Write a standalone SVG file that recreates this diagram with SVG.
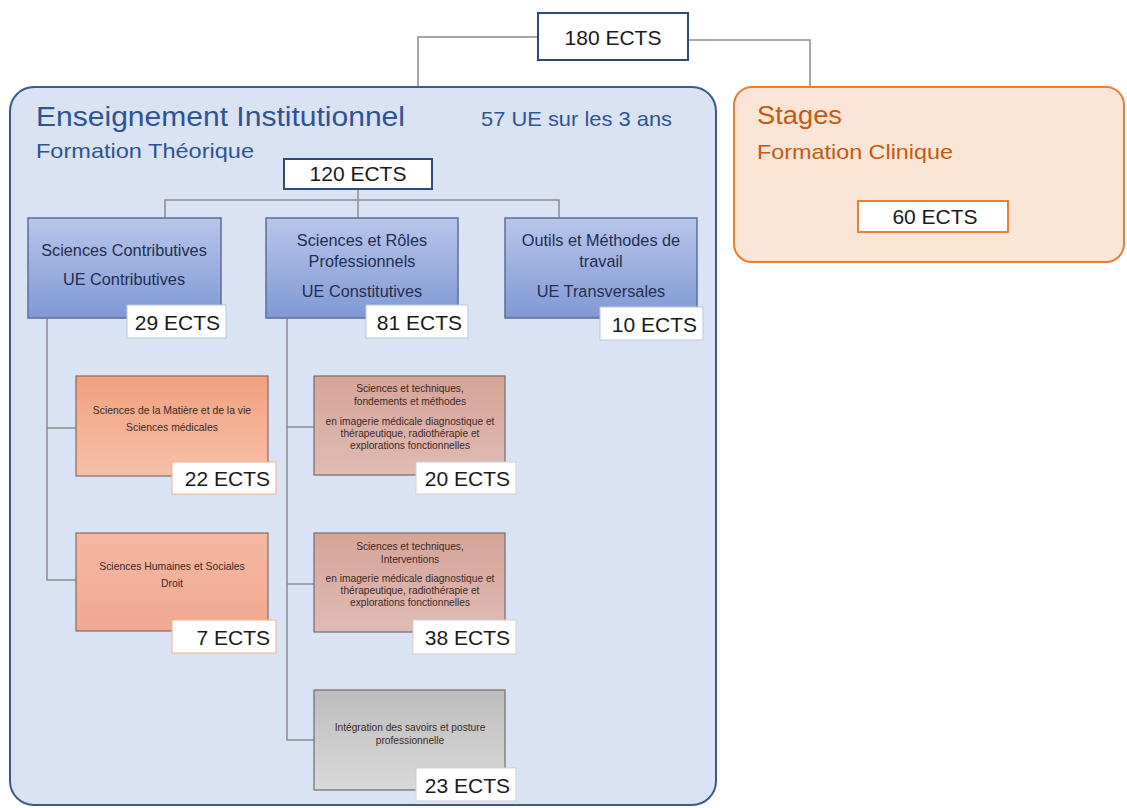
<svg xmlns="http://www.w3.org/2000/svg" width="1127" height="808" viewBox="0 0 1127 808">
<defs>
<linearGradient id="gBlue" x1="0" y1="0" x2="0" y2="1"><stop offset="0" stop-color="#b7c6ea"/><stop offset="1" stop-color="#8099d5"/></linearGradient>
<linearGradient id="gSalmon" x1="0" y1="0" x2="0" y2="1"><stop offset="0" stop-color="#f2a07e"/><stop offset="1" stop-color="#f6c0aa"/></linearGradient>
<linearGradient id="gSalmon2" x1="0" y1="0" x2="0" y2="1"><stop offset="0" stop-color="#f4b8a2"/><stop offset="1" stop-color="#f0a891"/></linearGradient>
<linearGradient id="gRose" x1="0" y1="0" x2="0" y2="1"><stop offset="0" stop-color="#d6a497"/><stop offset="1" stop-color="#dfbcb4"/></linearGradient>
<linearGradient id="gGrey" x1="0" y1="0" x2="0" y2="1"><stop offset="0" stop-color="#bdbdbd"/><stop offset="1" stop-color="#d9d9d9"/></linearGradient>
</defs>
<style>
text{font-family:"Liberation Sans",Arial,sans-serif}
.conn{fill:none;stroke:#8c8c8c;stroke-width:1.5}
.ects{fill:#ffffff}
.big{font-size:21px;fill:#1a1a1a;text-anchor:middle}
.num{font-size:21px;fill:#1a1a1a;text-anchor:end}
.lvl{font-size:16.3px;fill:#1f2f4f;text-anchor:middle}
.sm{font-size:10.4px;fill:#3a2a26;text-anchor:middle}
.xs{font-size:10.2px;fill:#3a2a26;text-anchor:middle}
.blue{fill:#2f5496}
.orange{fill:#c55a11}
</style>

<g id="connectors">
<path class="conn" d="M538,37 H418 V87"/>
<path class="conn" d="M688,40 H810 V87"/>
</g>

<g id="enseignement">
<rect x="10" y="87" width="706" height="718" rx="24" fill="#dae3f3" stroke="#3c5a8e" stroke-width="2"/>
<text x="36" y="126" class="blue" font-size="27" textLength="369" lengthAdjust="spacingAndGlyphs">Enseignement Institutionnel</text>
<text x="481" y="126" class="blue" font-size="21" textLength="191" lengthAdjust="spacingAndGlyphs">57 UE sur les 3 ans</text>
<text x="36" y="158" class="blue" font-size="21" textLength="218" lengthAdjust="spacingAndGlyphs">Formation Théorique</text>
</g>

<g id="stages">
<rect x="734" y="87" width="390" height="175" rx="18" fill="#fbe5d6" stroke="#ed7d31" stroke-width="2"/>
<text x="757" y="124" class="orange" font-size="26" textLength="85" lengthAdjust="spacingAndGlyphs">Stages</text>
<text x="757" y="159" class="orange" font-size="21" textLength="196" lengthAdjust="spacingAndGlyphs">Formation Clinique</text>
</g>

<g id="connectors-inner">
<path class="conn" d="M358,189 V200"/>
<path class="conn" d="M165,218 V200 H559 V218"/>
<path class="conn" d="M358,200 V218"/>
<path class="conn" d="M47,318 V580 H76"/>
<path class="conn" d="M47,428 H76"/>
<path class="conn" d="M287,318 V740 H314"/>
<path class="conn" d="M287,427 H314"/>
<path class="conn" d="M287,584 H314"/>
</g>

<g id="n180">
<rect x="538" y="13" width="150" height="47" fill="#ffffff" stroke="#2f4a7a" stroke-width="2"/>
<text x="613" y="45" class="big" font-size="25">180 ECTS</text>
</g>

<g id="n120">
<rect x="284" y="159" width="148" height="30" fill="#ffffff" stroke="#2f4a7a" stroke-width="2"/>
<text x="358" y="181" class="big" font-size="20">120 ECTS</text>
</g>

<g id="n60">
<rect x="858" y="201" width="150" height="31" fill="#ffffff" stroke="#ed7d31" stroke-width="2"/>
<text x="935" y="224" class="big" font-size="20">60 ECTS</text>
</g>

<g id="contributives">
<rect x="28" y="218" width="193" height="100" fill="url(#gBlue)" stroke="#5b6f9e" stroke-width="1.5"/>
<text x="124" y="256" class="lvl">Sciences Contributives</text>
<text x="124" y="285" class="lvl">UE Contributives</text>
<rect x="127" y="305" width="99" height="33" class="ects" stroke="#b4c7e7"/>
<text x="220" y="330" class="num">29 ECTS</text>
</g>

<g id="constitutives">
<rect x="266" y="218" width="192" height="100" fill="url(#gBlue)" stroke="#5b6f9e" stroke-width="1.5"/>
<text x="362" y="246" class="lvl">Sciences et Rôles</text>
<text x="362" y="267" class="lvl">Professionnels</text>
<text x="362" y="297" class="lvl">UE Constitutives</text>
<rect x="366" y="305" width="102" height="33" class="ects" stroke="#b4c7e7"/>
<text x="462" y="330" class="num">81 ECTS</text>
</g>

<g id="transversales">
<rect x="505" y="218" width="192" height="100" fill="url(#gBlue)" stroke="#5b6f9e" stroke-width="1.5"/>
<text x="601" y="246" class="lvl">Outils et Méthodes de</text>
<text x="601" y="267" class="lvl">travail</text>
<text x="601" y="297" class="lvl">UE Transversales</text>
<rect x="600" y="307" width="103" height="33" class="ects" stroke="#b4c7e7"/>
<text x="697" y="332" class="num">10 ECTS</text>
</g>

<g id="matiere">
<rect x="76" y="376" width="192" height="100" fill="url(#gSalmon)" stroke="#8a6a60" stroke-width="1.2"/>
<text x="172" y="414" class="sm">Sciences de la Matière et de la vie</text>
<text x="172" y="431" class="sm">Sciences médicales</text>
<rect x="172" y="462" width="104" height="32" class="ects" stroke="#f4b183"/>
<text x="270" y="486" class="num">22 ECTS</text>
</g>

<g id="humaines">
<rect x="76" y="533" width="192" height="98" fill="url(#gSalmon2)" stroke="#8a6a60" stroke-width="1.2"/>
<text x="172" y="570" class="sm">Sciences Humaines et Sociales</text>
<text x="172" y="587" class="sm">Droit</text>
<rect x="172" y="620" width="104" height="33" class="ects" stroke="#f4b183"/>
<text x="270" y="645" class="num">7 ECTS</text>
</g>

<g id="fondements">
<rect x="314" y="376" width="191" height="99" fill="url(#gRose)" stroke="#6f6f6f" stroke-width="1.2"/>
<text x="410" y="392" class="xs">Sciences et techniques,</text>
<text x="410" y="405" class="xs">fondements et méthodes</text>
<text x="410" y="425" class="xs">en imagerie médicale diagnostique et</text>
<text x="410" y="437" class="xs">thérapeutique, radiothérapie et</text>
<text x="410" y="449" class="xs">explorations fonctionnelles</text>
<rect x="416" y="462" width="100" height="32" class="ects" stroke="#d0d0d0"/>
<text x="510" y="486" class="num">20 ECTS</text>
</g>

<g id="interventions">
<rect x="314" y="533" width="191" height="99" fill="url(#gRose)" stroke="#6f6f6f" stroke-width="1.2"/>
<text x="410" y="550" class="xs">Sciences et techniques,</text>
<text x="410" y="563" class="xs">Interventions</text>
<text x="410" y="582" class="xs">en imagerie médicale diagnostique et</text>
<text x="410" y="594" class="xs">thérapeutique, radiothérapie et</text>
<text x="410" y="606" class="xs">explorations fonctionnelles</text>
<rect x="413" y="620" width="103" height="34" class="ects" stroke="#d0d0d0"/>
<text x="510" y="645" class="num">38 ECTS</text>
</g>

<g id="integration">
<rect x="314" y="690" width="191" height="100" fill="url(#gGrey)" stroke="#6f6f6f" stroke-width="1.2"/>
<text x="410" y="731" class="xs">Intégration des savoirs et posture</text>
<text x="410" y="744" class="xs">professionnelle</text>
<rect x="416" y="768" width="100" height="33" class="ects" stroke="#d0d0d0"/>
<text x="510" y="793" class="num">23 ECTS</text>
</g>
</svg>
